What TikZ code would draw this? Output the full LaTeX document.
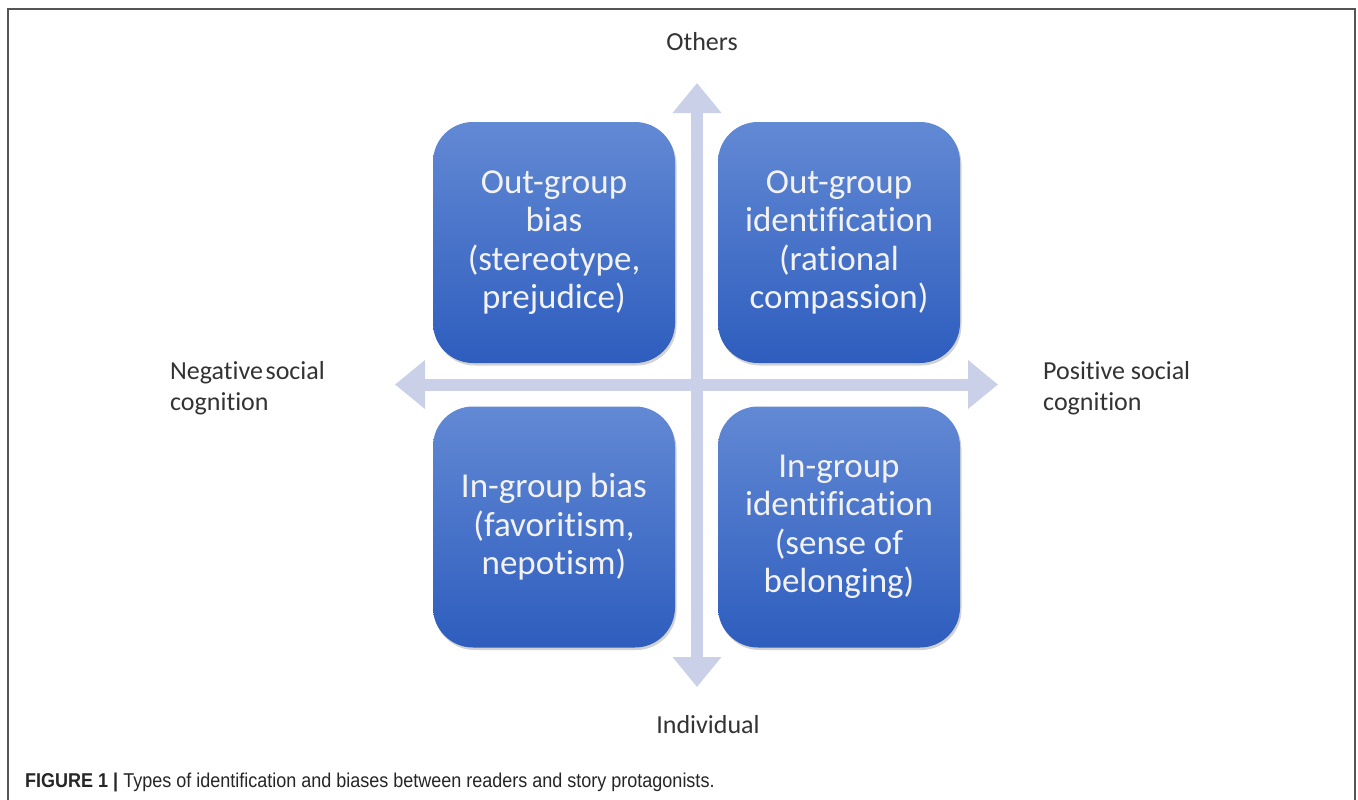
\documentclass[tikz,border=0pt]{standalone}
\usepackage{fontspec}
\setmainfont[Ligatures=NoCommon]{Carlito}
\newfontfamily\capfont[FakeStretch=0.9]{Liberation Sans}
\usetikzlibrary{arrows.meta, shadows}
\definecolor{axiscol}{HTML}{C9D0E8}
\definecolor{boxtop}{HTML}{6289D4}
\definecolor{boxbot}{HTML}{2E5DBE}
\definecolor{framecol}{HTML}{555555}
\tikzset{
  quad/.style={rounded corners=40pt, minimum width=242pt, minimum height=241pt,
    top color=boxtop, bottom color=boxbot, text=white!95!black, align=center,
    font=\fontsize{35}{38.5}\selectfont, inner sep=0pt,
    drop shadow={opacity=0.35, shadow xshift=1.5pt, shadow yshift=-2.5pt}},
  axislbl/.style={text=black!80, font=\fontsize{26}{31}\selectfont, align=left, inner sep=0pt},
  axis/.style={draw=axiscol, line width=12pt, {Triangle[length=30pt,width=47pt]}-{Triangle[length=30pt,width=47pt]}}
}
\begin{document}
\begin{tikzpicture}[x=1pt,y=-1pt]
\useasboundingbox (0,0) rectangle (1358,800);
\fill[white] (0,0) rectangle (1358,800);
\draw[framecol, line width=1.5pt] (8,801) -- (8,9) -- (1355,9) -- (1355,801);
% axes
\coordinate (up) at (697,83);
\coordinate (down) at (697,687);
\coordinate (left) at (395,384.5);
\coordinate (right) at (998,384.5);
\draw[axis] (left) -- (right);
\draw[axis] (down) -- (up);
% quadrants
\node[quad] (outbias) at (554,242.5) {Out-group\\bias\\(stereotype,\\prejudice)};
\node[quad] (outid) at (839,242.5) {Out-group\\identification\\(rational\\compassion)};
\node[quad] (inbias) at (554,527) {In-group bias\\(favoritism,\\nepotism)};
\node[quad] (inid) at (839,527) {In-group\\identification\\(sense of\\belonging)};
% axis labels
\node[axislbl] (others) at (702,42) {Others};
\node[axislbl] (indiv) at (708,725) {Individual};
\node[axislbl, anchor=west] (neg) at (170,388) {Negative\hspace{0.1em}social\\cognition};
\node[axislbl, anchor=west] (pos) at (1043,388) {Positive social\\cognition};
% caption
\node[anchor=west, inner sep=0pt, font=\capfont\fontsize{20}{22}\selectfont, text=black!85] (caption) at (25,782)
  {\textbf{FIGURE 1 |} Types of identification and biases between readers and story protagonists.};
\end{tikzpicture}
\end{document}
